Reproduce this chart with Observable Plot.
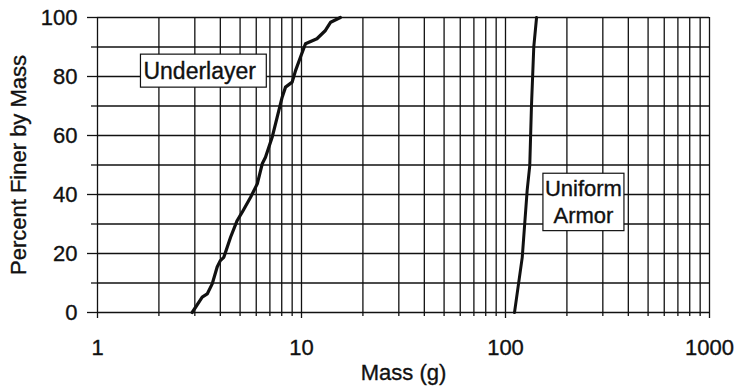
<!DOCTYPE html>
<html>
<head>
<meta charset="utf-8">
<script src="https://cdn.jsdelivr.net/npm/d3@7"></script>
<script src="https://cdn.jsdelivr.net/npm/@observablehq/plot@0.6"></script>
<style>
  html, body { margin: 0; padding: 0; background: #fff; }
  svg text { stroke: #111; stroke-width: 0.35px; }
</style>
</head>
<body>
<div id="chart"></div>
<script>
// Underlayer gradation curve
const underMass = [2.91, 3.26, 3.45, 3.65, 3.86, 4.0, 4.16, 4.49, 4.84, 5.12, 5.62, 6.07, 6.42, 6.66, 7.18, 7.6, 8.04, 8.35, 9.0, 9.35, 9.89, 10.46, 11.9, 13.1, 13.9, 15.5];
const underPct  = [0, 5.2, 6.3, 9.7, 15.4, 17.6, 18.7, 25.5, 31.2, 34, 39, 43.6, 50.4, 52.6, 59.4, 66.2, 73, 76.4, 78.1, 82, 86.6, 91.1, 92.8, 95.6, 98.4, 100];
// Uniform armor gradation curve
const armorMass = [110.7, 120.8, 127.7, 131.5, 134, 137.6, 142];
const armorPct  = [0, 18.7, 41.4, 49.8, 69.6, 90, 100];

// Axis ticks
const xMajorTicks = [1, 10, 100, 1000];
const xMinorTicks = [2,3,4,5,6,7,8,9, 20,30,40,50,60,70,80,90, 200,300,400,500,600,700,800,900];
const yMajorTicks = [0, 20, 40, 60, 80, 100];
const yMinorTicks = [10, 30, 50, 70, 90];

// Annotations
const underLabel = "Underlayer";
const underLabelX = 1.68;
const underLabelY = 81.6;
const armorLabel = "Uniform\nArmor";
const armorLabelX = 241;
const armorLabelY = 37.8;

const xTitle = "Mass (g)";
const yTitle = "Percent Finer by Mass";

const under = underMass.map((m, i) => ({m, p: underPct[i]}));
const armor = armorMass.map((m, i) => ({m, p: armorPct[i]}));

const gridStyle = {stroke: "#111", strokeOpacity: 1, strokeWidth: 1.3};

const chart = Plot.plot({
  width: 734,
  height: 386,
  marginLeft: 97,
  marginRight: 25,
  marginTop: 17,
  marginBottom: 74,
  style: {fontFamily: "Arial, 'Liberation Sans', sans-serif", fontSize: "22px", color: "#111", background: "#fff"},
  x: {type: "log", domain: [1, 1000]},
  y: {domain: [0, 100]},
  marks: [
    Plot.gridX(xMajorTicks.concat(xMinorTicks), gridStyle),
    Plot.gridY(yMajorTicks.concat(yMinorTicks), gridStyle),
    Plot.axisX(xMinorTicks, {tickSize: 4, tickFormat: () => "", strokeWidth: 1.3, label: null}),
    Plot.axisX(xMajorTicks, {tickSize: 6, tickPadding: 21, tickFormat: d => String(d), fontSize: 22, strokeWidth: 1.3, label: null}),
    Plot.axisY(yMinorTicks, {tickSize: 6, tickFormat: () => "", strokeWidth: 1.3, label: null}),
    Plot.axisY(yMajorTicks, {tickSize: 10, tickPadding: 10, tickFormat: d => String(d), fontSize: 22, strokeWidth: 1.3, label: null}),
    Plot.line(under, {x: "m", y: "p", stroke: "#111", strokeWidth: 3.2, strokeLinejoin: "round"}),
    Plot.line(armor, {x: "m", y: "p", stroke: "#111", strokeWidth: 3, strokeLinejoin: "round"}),
    Plot.text([underLabel], {x: () => underLabelX, y: () => underLabelY, text: d => d, textAnchor: "start", fontSize: 23, fill: "#111"}),
    Plot.text([armorLabel], {x: () => armorLabelX, y: () => armorLabelY, text: d => d, textAnchor: "middle", lineAnchor: "middle", lineHeight: 1.2, fontSize: 22, fill: "#111"}),
    Plot.text([xTitle], {frameAnchor: "bottom", dy: 60, lineAnchor: "middle", textAnchor: "middle", fontSize: 22, fill: "#111"}),
    Plot.text([yTitle], {frameAnchor: "left", dx: -79, rotate: -90, textAnchor: "middle", lineAnchor: "middle", fontSize: 22, fill: "#111"})
  ]
});

document.getElementById("chart").appendChild(chart);

// Draw boxes behind annotation texts
const boxSpecs = [
  {match: underLabel.replace(/\n/g, ""), pad: {l: 3, r: 10, t: 4, b: 3}},
  {match: armorLabel.replace(/\n/g, ""), pad: {l: 2, r: 2, t: 3, b: 3}}
];
const allTexts = Array.from(chart.querySelectorAll("text"));
boxSpecs.forEach(spec => {
  const tEl = allTexts.find(t => t.textContent.replace(/\s/g, "") === spec.match);
  if (!tEl) return;
  const bb = tEl.getBBox();
  const p = spec.pad;
  const rect = document.createElementNS("http://www.w3.org/2000/svg", "rect");
  rect.setAttribute("x", bb.x - p.l);
  rect.setAttribute("y", bb.y - p.t);
  rect.setAttribute("width", bb.width + p.l + p.r);
  rect.setAttribute("height", bb.height + p.t + p.b);
  rect.setAttribute("fill", "#fff");
  rect.setAttribute("stroke", "#111");
  rect.setAttribute("stroke-width", "1.2");
  const tr = tEl.getAttribute("transform");
  if (tr) rect.setAttribute("transform", tr);
  tEl.parentNode.insertBefore(rect, tEl);
});
</script>
</body>
</html>
